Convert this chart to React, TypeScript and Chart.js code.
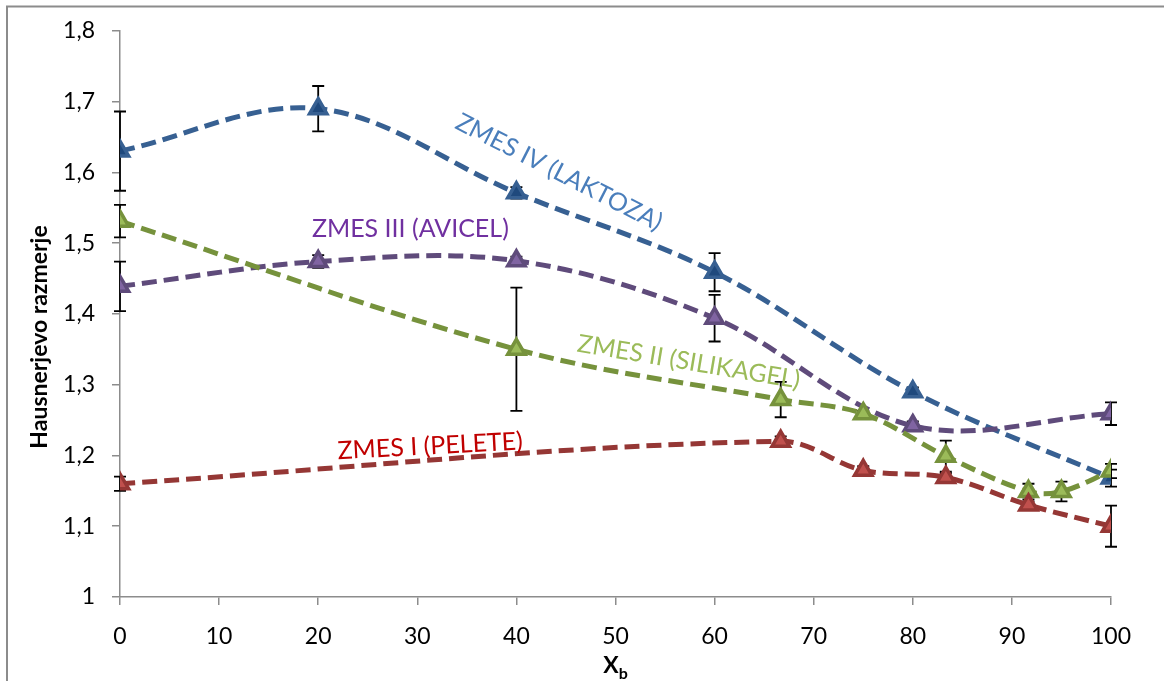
import React, { useEffect, useRef } from "react";
import { Chart, registerables } from "chart.js";

Chart.register(...registerables);

// ---- data ----
const yTicksMin = 1;
const yTicksMax = 1.8;
const xTicksMin = 0;
const xTicksMax = 100;

const laktozaX = [0, 20, 40, 60, 80, 100];
const laktozaY = [1.63, 1.69, 1.571, 1.459, 1.29, 1.168];
const laktozaErr = [0.056, 0.032, 0.008, 0.027, 0.006, 0.012];

const avicelX = [0, 20, 40, 60, 80, 100];
const avicelY = [1.439, 1.474, 1.475, 1.394, 1.242, 1.259];
const avicelErr = [0.035, 0.009, 0.006, 0.033, 0.006, 0.016];

const silikagelX = [0, 40, 66.67, 75, 83.33, 91.67, 95, 100];
const silikagelY = [1.531, 1.35, 1.279, 1.259, 1.199, 1.149, 1.149, 1.178];
const silikagelErr = [0.023, 0.087, 0.025, 0.004, 0.022, 0.011, 0.014, 0.01];

const peleteX = [0, 66.67, 75, 83.33, 91.67, 100];
const peleteY = [1.16, 1.22, 1.179, 1.169, 1.13, 1.1];
const peleteErr = [0.01, 0.007, 0.006, 0.006, 0.005, 0.029];

const seriesNames = ["ZMES IV (LAKTOZA)", "ZMES III (AVICEL)", "ZMES II (SILIKAGEL)", "ZMES I (PELETE)"];
const yAxisTitle = "Hausnerjevo razmerje";
const xAxisTitleMain = "X";
const xAxisTitleSub = "b";

const FONT = "Lato, 'Noto Sans', sans-serif";

const toPts = (xs: number[], ys: number[]) => xs.map((x, i) => ({ x, y: ys[i] }));

const errorBarsPlugin = {
  id: "errorBars",
  beforeDatasetsDraw(chart: any) {
    const ctx = chart.ctx;
    const xs = chart.scales.x;
    const ys = chart.scales.y;
    ctx.save();
    ctx.strokeStyle = "#000000";
    ctx.lineWidth = 1.8;
    chart.data.datasets.forEach((ds: any) => {
      const errs: number[] = ds.errors || [];
      ds.data.forEach((p: any, i: number) => {
        const e = errs[i];
        if (!e) return;
        const px = xs.getPixelForValue(p.x);
        const top = ys.getPixelForValue(p.y + e);
        const bot = ys.getPixelForValue(p.y - e);
        ctx.beginPath();
        ctx.moveTo(px, top);
        ctx.lineTo(px, bot);
        ctx.moveTo(px - 6, top);
        ctx.lineTo(px + 6, top);
        ctx.moveTo(px - 6, bot);
        ctx.lineTo(px + 6, bot);
        ctx.stroke();
      });
    });
    ctx.restore();
  },
};

const decorPlugin = {
  id: "decor",
  afterDraw(chart: any) {
    const ctx = chart.ctx;
    const area = chart.chartArea;
    ctx.save();
    // outer frame (left and top visible)
    ctx.strokeStyle = "#8c8c8c";
    ctx.lineWidth = 2;
    ctx.beginPath();
    ctx.moveTo(7, chart.height + 2);
    ctx.lineTo(7, 6.5);
    ctx.lineTo(chart.width + 2, 6.5);
    ctx.stroke();

    // y axis title
    ctx.fillStyle = "#000000";
    ctx.font = `bold 23px ${FONT}`;
    ctx.textAlign = "center";
    ctx.textBaseline = "middle";
    ctx.save();
    ctx.translate(40, 337);
    ctx.rotate(-Math.PI / 2);
    ctx.fillText(yAxisTitle, 0, 0);
    ctx.restore();

    // x axis title with subscript
    const cx = (area.left + area.right) / 2;
    ctx.font = `bold 23px ${FONT}`;
    ctx.textAlign = "left";
    ctx.textBaseline = "alphabetic";
    const wX = ctx.measureText(xAxisTitleMain).width;
    ctx.font = `bold 16px ${FONT}`;
    const wB = ctx.measureText(xAxisTitleSub).width;
    const startX = cx - (wX + wB) / 2;
    ctx.font = `bold 23px ${FONT}`;
    ctx.fillText(xAxisTitleMain, startX, 673);
    ctx.font = `bold 16px ${FONT}`;
    ctx.fillText(xAxisTitleSub, startX + wX, 679);

    // series labels
    const xs = chart.scales.x;
    const ys = chart.scales.y;
    const labels = [
      { text: seriesNames[0], x: 44.3, y: 1.6, rot: 27, color: "#4A7EBB" },
      { text: seriesNames[1], x: 29.3, y: 1.52, rot: 0, color: "#7030A0" },
      { text: seriesNames[2], x: 57.4, y: 1.332, rot: 9.5, color: "#9BBB59" },
      { text: seriesNames[3], x: 31.3, y: 1.213, rot: -3, color: "#C00000" },
    ];
    ctx.font = `25px ${FONT}`;
    ctx.textAlign = "center";
    ctx.textBaseline = "middle";
    labels.forEach((l) => {
      ctx.save();
      ctx.translate(xs.getPixelForValue(l.x), ys.getPixelForValue(l.y));
      ctx.rotate((l.rot * Math.PI) / 180);
      ctx.fillStyle = l.color;
      ctx.fillText(l.text, 0, 0);
      ctx.restore();
    });
    ctx.restore();
  },
};

function mkDataset(name: string, xs: number[], ys: number[], errs: number[], line: string, fill: string) {
  return {
    label: name,
    data: toPts(xs, ys),
    errors: errs,
    borderColor: line,
    borderWidth: 5,
    borderDash: [15, 7],
    tension: 0.35,
    pointStyle: "triangle",
    pointRadius: 10,
    pointBorderWidth: 3.5,
    pointBackgroundColor: fill,
    pointBorderColor: line,
    fill: false,
  };
}

export default function App() {
  const ref = useRef<HTMLCanvasElement | null>(null);
  useEffect(() => {
    if (!ref.current) return;
    const chart = new Chart(ref.current, {
      type: "line",
      data: {
        datasets: [
          mkDataset(seriesNames[3], peleteX, peleteY, peleteErr, "#953735", "#C0504D"),
          mkDataset(seriesNames[2], silikagelX, silikagelY, silikagelErr, "#76923C", "#9BBB59"),
          mkDataset(seriesNames[1], avicelX, avicelY, avicelErr, "#5F4B7B", "#8064A2"),
          mkDataset(seriesNames[0], laktozaX, laktozaY, laktozaErr, "#376092", "#1F497D"),
        ] as any,
      },
      options: {
        animation: false,
        responsive: false,
        maintainAspectRatio: false,
        layout: { padding: { top: 23, right: 53, left: 0, bottom: 0 } },
        plugins: { legend: { display: false }, tooltip: { enabled: false } },
        scales: {
          x: {
            type: "linear",
            min: xTicksMin,
            max: xTicksMax,
            afterFit: (s: any) => {
              s.height = 84;
            },
            ticks: {
              stepSize: 10,
              padding: 18,
              color: "#000000",
              font: { family: FONT, size: 23 },
            },
            grid: {
              drawOnChartArea: false,
              drawTicks: true,
              tickLength: 8,
              color: "#8c8c8c",
              lineWidth: 1.5,
            },
            border: { color: "#8c8c8c", width: 1.5 },
          },
          y: {
            type: "linear",
            min: yTicksMin,
            max: yTicksMax,
            afterFit: (s: any) => {
              s.width = 120;
            },
            ticks: {
              stepSize: 0.1,
              padding: 17,
              color: "#000000",
              font: { family: FONT, size: 23 },
              callback: (v: any) => {
                const n = Math.round(Number(v) * 10) / 10;
                return n === 1 ? "1" : n.toFixed(1).replace(".", ",");
              },
            },
            grid: {
              drawOnChartArea: false,
              drawTicks: true,
              tickLength: 8,
              color: "#8c8c8c",
              lineWidth: 1.5,
            },
            border: { color: "#8c8c8c", width: 1.5 },
          },
        },
      } as any,
      plugins: [errorBarsPlugin, decorPlugin],
    });
    return () => chart.destroy();
  }, []);
  return (
    <div style={{ position: "fixed", left: 0, top: 0, width: 1164, height: 681, background: "#ffffff" }}>
      <canvas ref={ref} width={1164} height={681} style={{ display: "block" }} />
    </div>
  );
}
